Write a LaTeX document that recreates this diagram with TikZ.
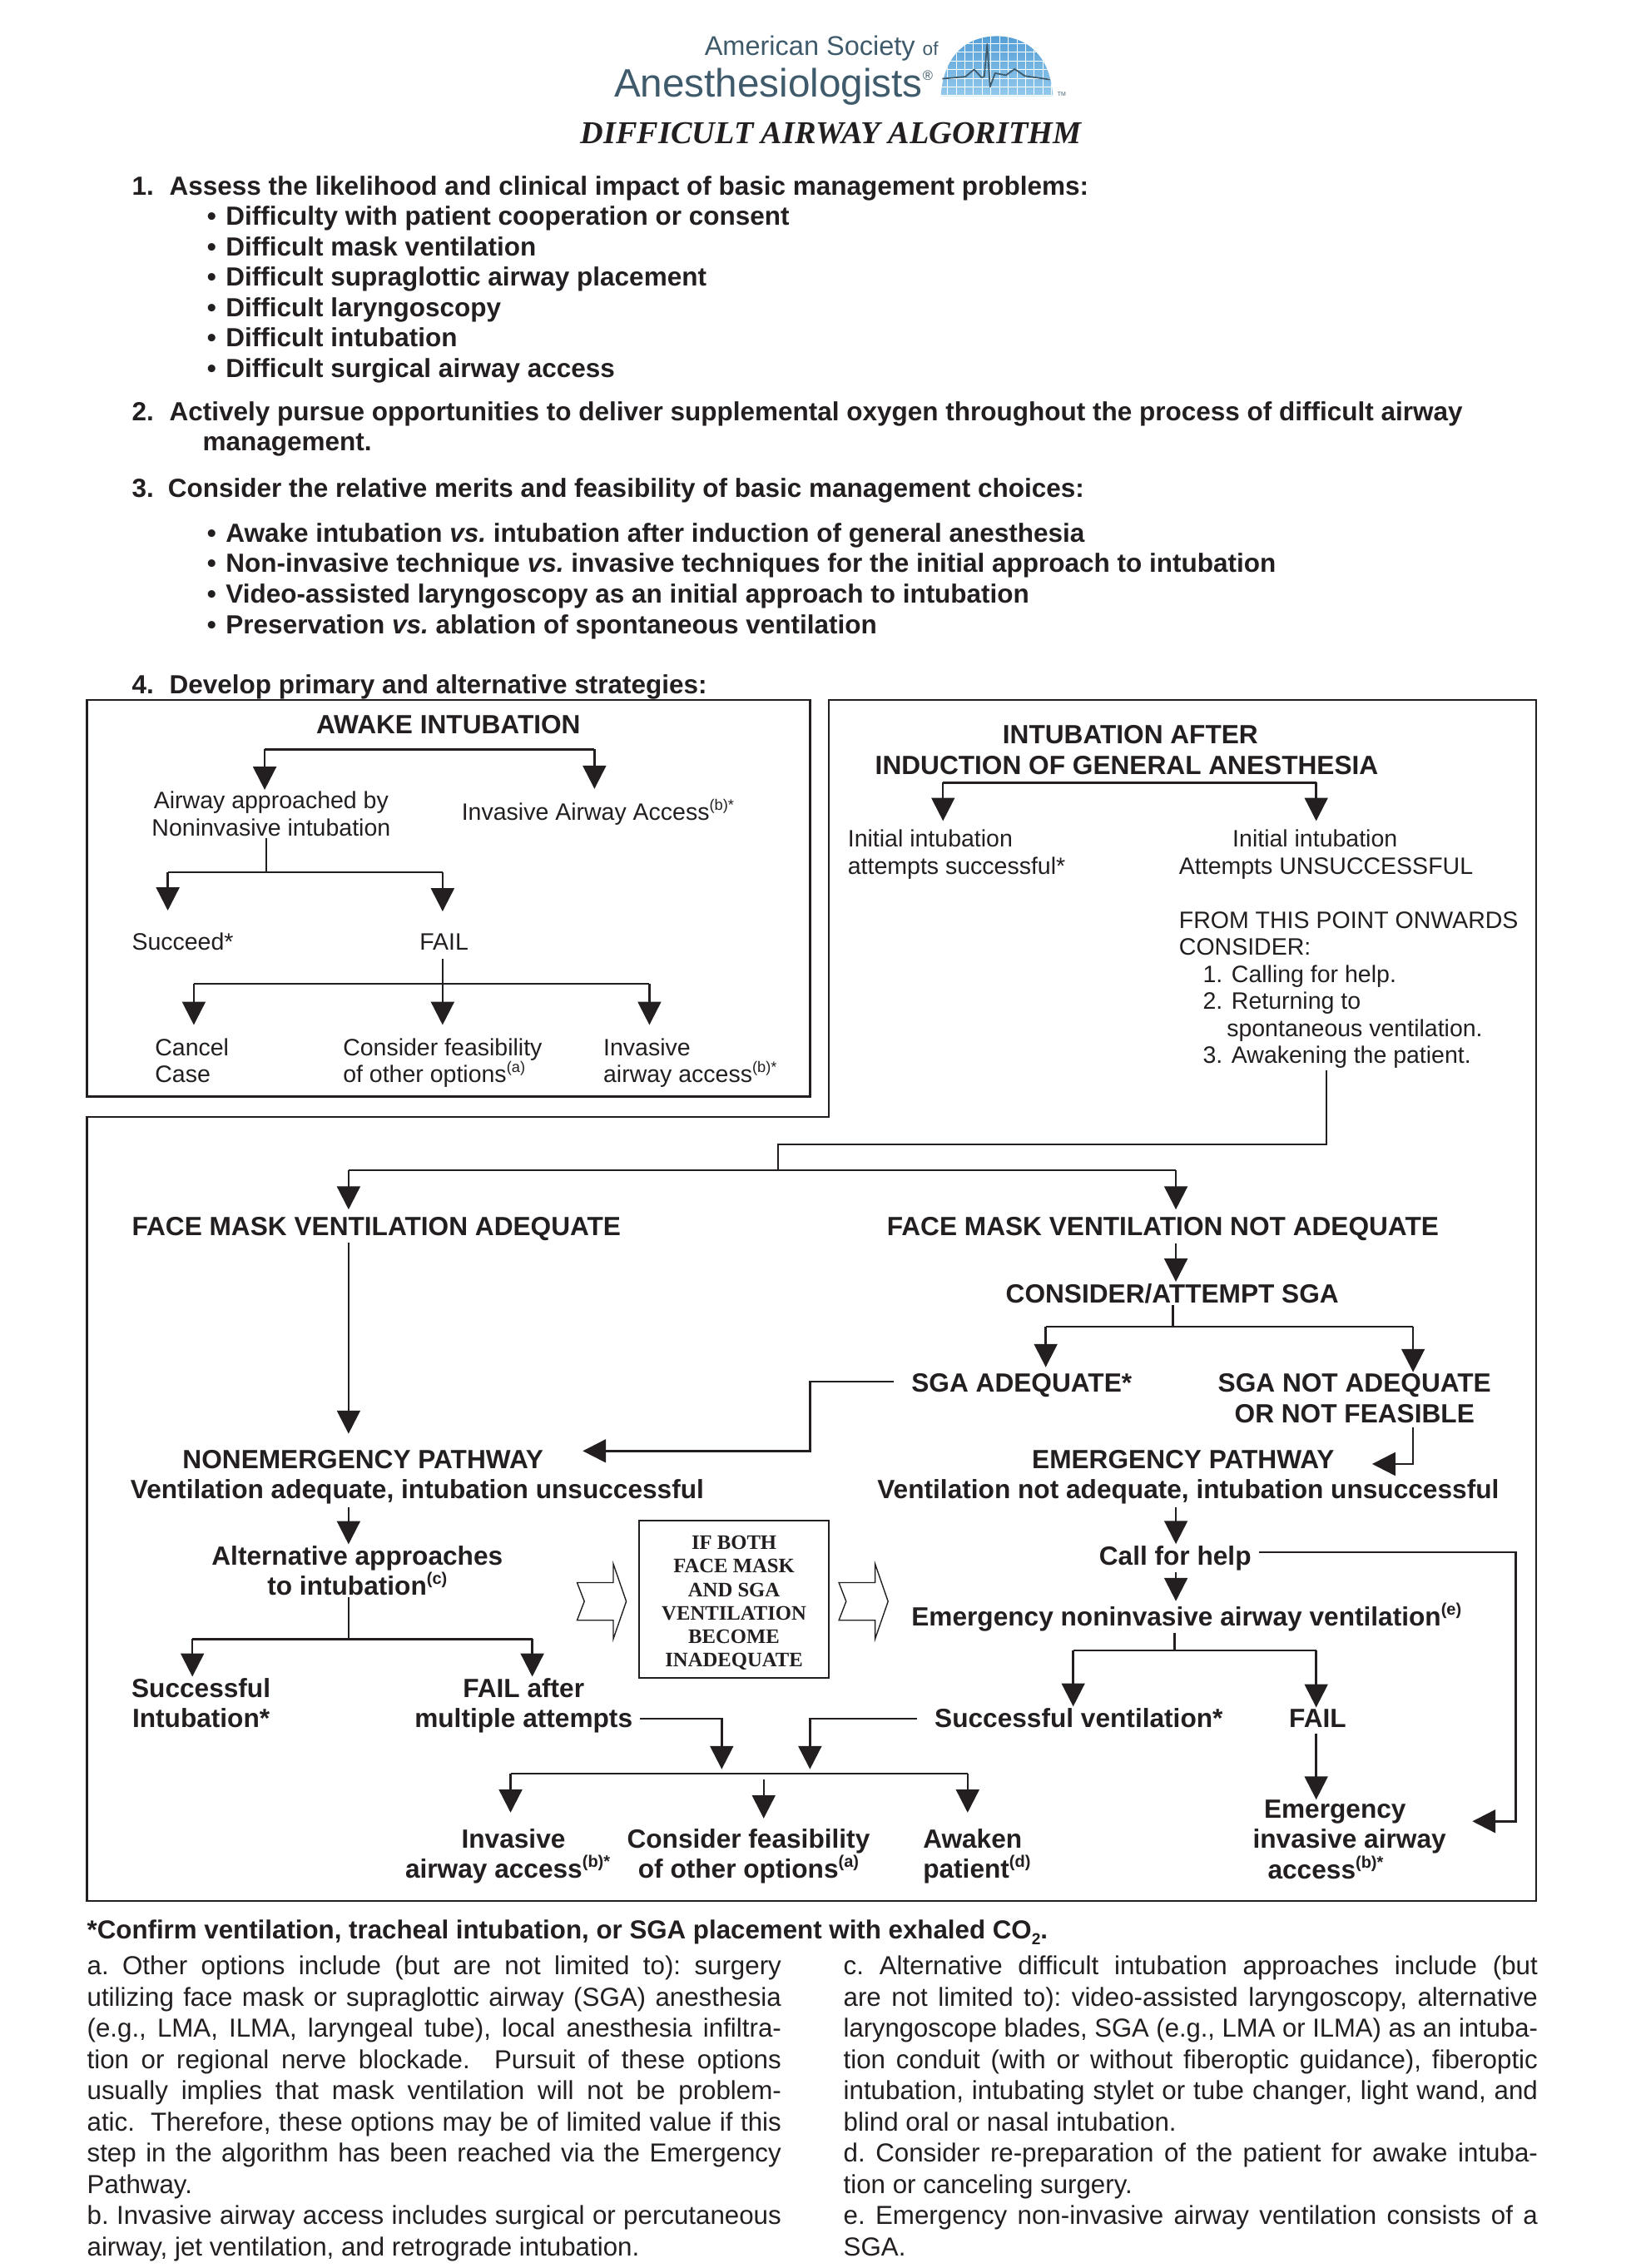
\documentclass[tikz,border=0pt]{standalone}
\usepackage{fontspec}
\setmainfont{Liberation Sans}
\newfontfamily\boxserif{Liberation Serif}
\usetikzlibrary{arrows.meta}
\definecolor{ink}{HTML}{231F20}
\definecolor{logoslate}{HTML}{3F5B6B}
\definecolor{domelight}{HTML}{93C9EC}
\definecolor{domedark}{HTML}{559FD6}
\newcommand{\upmark}[2][11.5]{\raisebox{0.42em}{\fontsize{#1}{#1}\selectfont #2}}
\newcommand{\bulletline}[1]{\hspace*{52pt}\makebox[13pt][l]{\textbullet}#1}
\newsavebox{\notebox}
\newcommand{\fullline}[1]{\sbox{\notebox}{#1}\ifdim\wd\notebox>480pt
  \hbox{\resizebox{480pt}{\height}{\usebox{\notebox}}}\else\hbox to 480pt{#1}\fi}
\newcommand{\lastline}[1]{\hbox to 480pt{#1\hfil}}
\begin{document}
\begin{tikzpicture}[x=1pt,y=-1pt,
every node/.style={inner sep=1pt,text=ink},
listtext/.style={anchor=north west,align=left,font=\fontsize{18.12}{21}\selectfont\bfseries\frenchspacing},
strongtext/.style={align=center,font=\fontsize{18.2}{21}\selectfont\bfseries},
lighttext/.style={align=left,font=\fontsize{16.4}{18.7}\selectfont},
notes/.style={anchor=north west,inner sep=0pt,font=\fontsize{18}{21.55}\selectfont\frenchspacing},
flow/.style={draw=ink,line width=1.4pt},
arrow/.style={flow,-{Triangle[width=16pt,length=16pt]}},
frame/.style={draw=ink,line width=1.4pt},
blockarrow/.style={draw=ink,line width=0.8pt,fill=white},
]
\useasboundingbox (0,0) rectangle (1131,1567.8);

% logo
\node[anchor=base west,inner sep=0pt,text=logoslate,font=\fontsize{18.7}{17}\selectfont] (logotop) at (487,38) {American Society {\fontsize{13}{13}\selectfont of}};
\node[anchor=base west,inner sep=0pt,text=logoslate,font=\fontsize{27.4}{26.5}\selectfont] (logomain) at (424.5,67) {Anesthesiologists\upmark[9.5]{\textregistered}};
\shade[top color=domedark,bottom color=domelight] (650.5,66.4) .. controls (652.5,36) and (670.5,25) .. (689,25) .. controls (707.5,25) and (726,36) .. (728,66.4) -- cycle;
\begin{scope}
\clip (650.5,66.4) .. controls (652.5,36) and (670.5,25) .. (689,25) .. controls (707.5,25) and (726,36) .. (728,66.4) -- cycle;
\foreach \gx in {655,661,...,727} \draw[white,line width=0.4pt] (\gx,24) -- (\gx,67);
\foreach \gy in {30,36,...,66} \draw[white,line width=0.4pt] (650,\gy) -- (729,\gy);
\end{scope}
\draw[logoslate,line width=1pt,line join=round] (651.5,54.4) -- (667.5,53) -- (673.5,48) -- (678.5,53.5) -- (680.5,53) -- (682.5,30.5) -- (684.5,60) -- (688,50.6) -- (695.5,52) -- (701.5,47.7) -- (708.5,52.5) -- (726,55);
\node[inner sep=0pt,text=logoslate,font=\fontsize{4}{4}\selectfont] (logotm) at (734,65) {TM};
\node[anchor=base,inner sep=0pt,font=\fontsize{22}{22}\selectfont\boxserif\bfseries\itshape] (title) at (574.5,99.5) {DIFFICULT AIRWAY ALGORITHM};

% numbered list
\node[listtext] (assess) at (90,120.5) {\makebox[26pt][l]{1.}Assess the likelihood and clinical impact of basic management problems:\\
\bulletline{Difficulty with patient cooperation or consent}\\
\bulletline{Difficult mask ventilation}\\
\bulletline{Difficult supraglottic airway placement}\\
\bulletline{Difficult laryngoscopy}\\
\bulletline{Difficult intubation}\\
\bulletline{Difficult surgical airway access}};
\node[listtext] (oxygen) at (90,276.5) {\makebox[26pt][l]{2.}Actively pursue opportunities to deliver supplemental oxygen throughout the process of difficult airway\\
\hspace*{49pt}management.};
\node[listtext] (choices) at (90,329.5) {\makebox[25pt][l]{3.}Consider the relative merits and feasibility of basic management choices:};
\node[listtext] (techniques) at (90,360.5) {\bulletline{Awake intubation \textit{vs.} intubation after induction of general anesthesia}\\
\bulletline{Non-invasive technique \textit{vs.} invasive techniques for the initial approach to intubation}\\
\bulletline{Video-assisted laryngoscopy as an initial approach to intubation}\\
\bulletline{Preservation \textit{vs.} ablation of spontaneous ventilation}};
\node[listtext] (strategies) at (90,465) {\makebox[26pt][l]{4.}Develop primary and alternative strategies:};

% frames
\draw[frame] (60,484) rectangle (560,758);
\draw[frame] (573,484) -- (1062,484) -- (1062,1314) -- (60,1314) -- (60,772) -- (573,772) -- cycle;

% awake intubation
\node[strongtext] (awake) at (310,501) {AWAKE INTUBATION};
\node[lighttext,align=center,anchor=north] (noninv) at (187.5,546) {Airway approached by\\Noninvasive intubation};
\node[lighttext,anchor=base west] (invasiveA) at (318,567) {Invasive Airway Access\upmark[10.5]{(b)*}};
\node[lighttext,anchor=base west] (succeed) at (90,656.5) {Succeed*};
\node[lighttext,anchor=base] (failA) at (307,656.5) {FAIL};
\node[lighttext,anchor=north west] (cancel) at (106,716.5) {Cancel\\Case};
\node[lighttext,anchor=north west] (considerA) at (236,716.5) {Consider feasibility\\of other options\upmark[10.5]{(a)}};
\node[lighttext,anchor=north west] (invasiveB) at (416,716.5) {Invasive\\airway access\upmark[10.5]{(b)*}};
\coordinate (awakeL) at (183,518);
\coordinate (awakeR) at (411,518);
\draw[flow] (awakeL) -- (awakeR);
\draw[arrow] (awakeL) -- (awakeL |- noninv.north);
\draw[arrow,shorten >=6pt] (awakeR) -- (awakeR |- invasiveA.north);
\coordinate (noninvfork) at (184,603);
\coordinate (noninvL) at (116,603);
\coordinate (noninvR) at (306,603);
\draw[flow] (noninv.south -| noninvfork) -- (noninvfork);
\draw[flow] (noninvL) -- (noninvR);
\draw[arrow,shorten >=14pt] (noninvL) -- (noninvL |- succeed.north);
\draw[arrow,shorten >=14pt] (noninvR) -- (noninvR |- failA.north);
\coordinate (failL) at (134,680);
\coordinate (failR) at (449,680);
\draw[flow] (failL) -- (failR);
\draw[arrow,shorten >=8pt] (failL) -- (failL |- cancel.north);
\draw[arrow,shorten <=5pt,shorten >=8pt] (failA.south -| noninvR) -- (noninvR |- considerA.north);
\draw[arrow,shorten >=8pt] (failR) -- (failR |- invasiveB.north);

% intubation after induction
\node[strongtext] (induction) at (779,518.5) {\hspace*{5pt}INTUBATION AFTER\\INDUCTION OF GENERAL ANESTHESIA};
\node[lighttext,anchor=north west] (initialok) at (585,572.5) {Initial intubation\\attempts successful*};
\node[lighttext,anchor=north west] (initialbad) at (814,572.5) {\hspace*{37pt}Initial intubation\\Attempts UNSUCCESSFUL};
\node[lighttext,anchor=north west] (fromhere) at (814,629) {FROM THIS POINT ONWARDS\\CONSIDER:\\
\hspace*{16.5pt}1. Calling for help.\\
\hspace*{16.5pt}2. Returning to\\
\hspace*{33pt}spontaneous ventilation.\\
\hspace*{16.5pt}3. Awakening the patient.};
\coordinate (inductionL) at (652,541);
\coordinate (inductionR) at (910,541);
\draw[flow] (inductionL) -- (inductionR);
\draw[arrow,shorten >=5pt] (inductionL) -- (inductionL |- initialok.north);
\draw[arrow,shorten >=5pt] (inductionR) -- (inductionR |- initialbad.north);

% face mask
\node[strongtext,anchor=base west] (maskok) at (90,854) {FACE MASK VENTILATION ADEQUATE};
\node[strongtext,anchor=base west] (maskbad) at (612,854) {FACE MASK VENTILATION NOT ADEQUATE};
\coordinate (fromturn) at (917,791);
\coordinate (maskfork) at (538,791);
\coordinate (maskL) at (241,809);
\coordinate (maskR) at (813,809);
\draw[flow] (fromhere.south -| fromturn) -- (fromturn) -- (maskfork) -- (maskfork |- maskL);
\draw[flow] (maskL) -- (maskR);
\draw[arrow,shorten >=4pt] (maskL) -- (maskL |- maskok.north);
\draw[arrow,shorten >=4pt] (maskR) -- (maskR |- maskbad.north);

% nonemergency side
\node[strongtext,anchor=base] (nonemerg) at (251,1015) {NONEMERGENCY PATHWAY};
\node[strongtext,anchor=base] (nonemergline) at (288.5,1036) {Ventilation adequate, intubation unsuccessful};
\draw[arrow,shorten >=10pt] (maskL |- maskok.south) -- (maskL |- nonemerg.north);
\node[strongtext,anchor=north] (altern) at (247,1067.5) {Alternative approaches\\to intubation\upmark{(c)}};
\draw[arrow,shorten <=1pt] (maskL |- nonemergline.south) -- (maskL |- altern.north);
\node[strongtext,anchor=north] (succintub) at (139,1159) {Successful\\Intubation*};
\node[strongtext,anchor=north] (failmulti) at (362,1159) {FAIL after\\multiple attempts};
\coordinate (alternfork) at (241,1133);
\coordinate (alternL) at (133,1133);
\coordinate (alternR) at (368,1133);
\draw[flow] (altern.south -| alternfork) -- (alternfork);
\draw[flow] (alternL) -- (alternR);
\draw[arrow] (alternL) -- (alternL |- succintub.north);
\draw[arrow] (alternR) -- (alternR |- failmulti.north);

% middle box
\node[draw=ink,line width=0.9pt,minimum width=131pt,minimum height=109pt,inner sep=0pt,align=center,font=\fontsize{14.2}{16.2}\selectfont\boxserif\bfseries] (bothfail) at (507.5,1105.5) {\rule{0pt}{14.5pt}IF BOTH\\FACE MASK\\AND SGA\\VENTILATION\\BECOME\\INADEQUATE};
\foreach \bx in {0,181}
  \draw[blockarrow,xshift=\bx pt] (399,1094) -- (404,1107) -- (399,1120) -- (424,1120) -- (424,1133) -- (433,1107) -- (424,1081) -- (424,1094) -- cycle;

% emergency side
\node[strongtext] (sgaattempt) at (810.5,894) {CONSIDER/ATTEMPT SGA};
\draw[arrow,shorten <=1pt] (maskR |- maskbad.south) -- (maskR |- sgaattempt.north);
\node[strongtext,anchor=base west] (sgaok) at (629,962) {SGA ADEQUATE*};
\node[strongtext,anchor=north] (sgabad) at (936.5,948.5) {SGA NOT ADEQUATE\\OR NOT FEASIBLE};
\coordinate (sgafork) at (811,917);
\coordinate (sgaL) at (723,917);
\coordinate (sgaR) at (977,917);
\draw[flow] (sgaattempt.south -| sgafork) -- (sgafork);
\draw[flow] (sgaL) -- (sgaR);
\draw[arrow,shorten >=3pt] (sgaL) -- (sgaL |- sgaok.north);
\draw[arrow] (sgaR) -- (sgaR |- sgabad.north);
\coordinate (sgaturn) at (560,955);
\coordinate (nonemergin) at (560,1003);
\draw[arrow,shorten <=11pt,shorten >=26pt] (sgaok.west |- sgaturn) -- (sgaturn) -- (nonemergin) -- (nonemerg.east |- nonemergin);
\node[strongtext,anchor=base] (emerg) at (818,1015) {EMERGENCY PATHWAY};
\node[strongtext,anchor=base] (emergline) at (821.5,1036) {Ventilation not adequate, intubation unsuccessful};
\coordinate (sgabadturn) at (977,1012);
\draw[arrow,shorten <=2pt,shorten >=25pt] (sgaR |- sgabad.south) -- (sgabadturn) -- (emerg.east |- sgabadturn);
\node[strongtext] (callhelp) at (812.5,1077) {Call for help};
\draw[arrow,shorten <=1pt] (maskR |- emergline.south) -- (maskR |- callhelp.north);
\node[strongtext,anchor=base west] (emnoninv) at (629,1124) {Emergency noninvasive airway ventilation\upmark{(e)}};
\draw[arrow] (maskR |- callhelp.south) -- (maskR |- emnoninv.north);
\node[strongtext,anchor=base west] (succvent) at (645,1194) {Successful ventilation*};
\node[strongtext,anchor=base] (failB) at (911,1194) {FAIL};
\coordinate (emfork) at (812,1141);
\coordinate (emL) at (742,1141);
\coordinate (emR) at (910,1141);
\draw[flow] (emnoninv.south -| emfork) -- (emfork);
\draw[flow] (emL) -- (emR);
\draw[arrow] (emL) -- (emL |- succvent.north);
\draw[arrow] (emR) -- (emR |- failB.north);
\node[strongtext,anchor=north] (eminvasive) at (933,1243) {\hspace*{-20pt}Emergency\\invasive airway\\\hspace*{-33pt}access\upmark{(b)*}};
\draw[arrow,shorten <=3pt,shorten >=-1pt] (emR |- failB.south) -- (emR |- eminvasive.north);
\coordinate (helpturn) at (1048,1073);
\coordinate (helpdown) at (1048,1259);
\draw[arrow,shorten <=4pt,shorten >=17pt] (callhelp.east |- helpturn) -- (helpturn) -- (helpdown) -- (eminvasive.east |- helpdown);

% outcomes
\node[strongtext,anchor=north] (invasiveC) at (351,1263) {\hspace*{8pt}Invasive\\airway access\upmark{(b)*}};
\node[strongtext,anchor=north] (considerB) at (517.5,1263) {Consider feasibility\\of other options\upmark{(a)}};
\node[strongtext,anchor=north west,align=left] (awaken) at (637,1263) {Awaken\\patient\upmark{(d)}};
\coordinate (failturn) at (499,1188);
\coordinate (ventturn) at (560,1188);
\coordinate (outL) at (353,1226);
\coordinate (outR) at (669,1226);
\coordinate (outM) at (528,1230);
\draw[flow] (outL) -- (outR);
\draw[arrow,shorten <=4pt,shorten >=3pt] (failmulti.east |- failturn) -- (failturn) -- (failturn |- outL);
\draw[arrow,shorten <=11pt,shorten >=3pt] (succvent.west |- ventturn) -- (ventturn) -- (ventturn |- outL);
\draw[arrow,shorten >=10pt] (outL) -- (outL |- invasiveC.north);
\draw[arrow,shorten >=6pt] (outM) -- (outM |- considerB.north);
\draw[arrow,shorten >=10pt] (outR) -- (outR |- awaken.north);

% footnotes
\node[anchor=base west,inner sep=0pt,font=\fontsize{18}{21}\selectfont\bfseries] (confirm) at (60,1340) {*Confirm ventilation, tracheal intubation, or SGA placement with exhaled CO\raisebox{-0.25em}{\fontsize{11}{11}\selectfont 2}.};
\node[notes] (notesleft) at (60,1352) {\vbox{
\fullline{a. Other options include (but are not limited to): surgery}
\fullline{utilizing face mask or supraglottic airway (SGA) anesthesia}
\fullline{(e.g., LMA, ILMA, laryngeal tube), local anesthesia infiltra-}
\fullline{tion or regional nerve blockade.\ \ Pursuit of these options}
\fullline{usually implies that mask ventilation will not be problem-}
\fullline{atic.\ \ Therefore, these options may be of limited value if this}
\fullline{step in the algorithm has been reached via the Emergency}
\lastline{Pathway.}
\fullline{b. Invasive airway access includes surgical or percutaneous}
\lastline{airway, jet ventilation, and retrograde intubation.}}};
\node[notes] (notesright) at (583,1352) {\vbox{
\fullline{c. Alternative difficult intubation approaches include (but}
\fullline{are not limited to): video-assisted laryngoscopy, alternative}
\fullline{laryngoscope blades, SGA (e.g., LMA or ILMA) as an intuba-}
\fullline{tion conduit (with or without fiberoptic guidance), fiberoptic}
\fullline{intubation, intubating stylet or tube changer, light wand, and}
\lastline{blind oral or nasal intubation.}
\fullline{d. Consider re-preparation of the patient for awake intuba-}
\lastline{tion or canceling surgery.}
\fullline{e. Emergency non-invasive airway ventilation consists of a}
\lastline{SGA.}}};
\end{tikzpicture}
\end{document}
